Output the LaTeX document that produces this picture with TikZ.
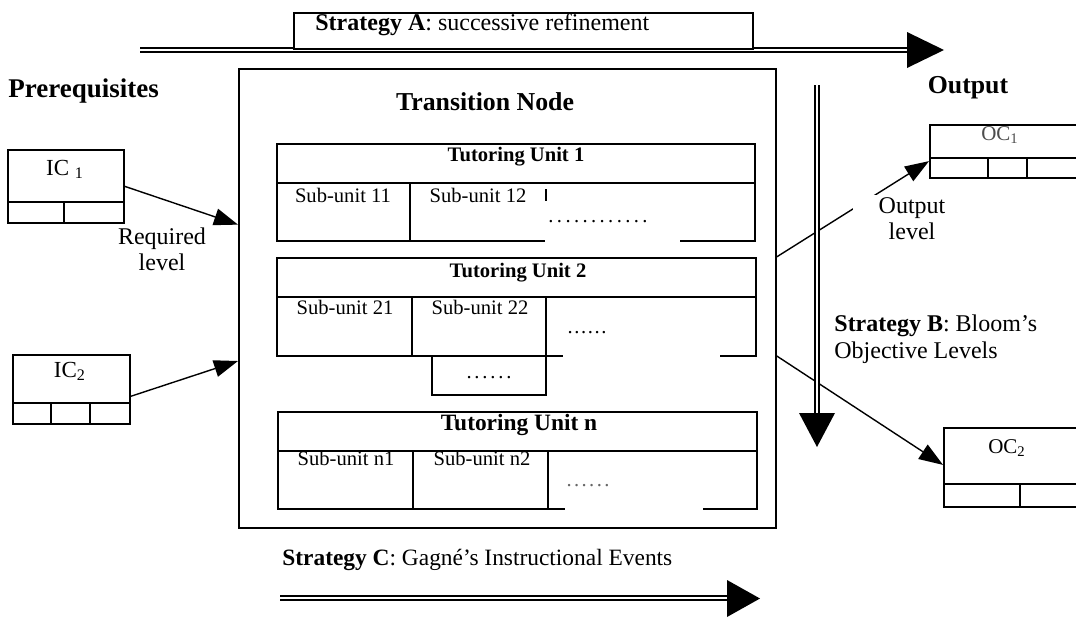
\documentclass[tikz,border=0pt]{standalone}
\usepackage{fontspec}
\setmainfont{Liberation Serif}
\usetikzlibrary{calc,arrows.meta}
\newcommand\pd[1]{.\kern#1}
\newcommand\subf{\fontsize{10.3}{12}\selectfont}
\begin{document}
\begin{tikzpicture}[x=0.5pt,y=-0.5pt,
  ln/.style={line width=0.7pt},
  box/.style={draw, line width=0.8pt, inner sep=0pt, anchor=north west},
  conn/.style={line width=0.7pt, -{Triangle[length=12pt,width=8.5pt]}},
  txt/.style={inner sep=0pt, anchor=base},
  shaft/.style={double, double distance=1.2pt, line width=0.8pt},
  tuhead/.style={txt, font=\fontsize{10.3}{12}\selectfont\bfseries},
  subtxt/.style={txt, font=\subf},
  lbl/.style={inner sep=0pt, align=center, font=\fontsize{12}{13}\selectfont}]
\useasboundingbox (0,0) rectangle (1076,621);
\clip (0,0) rectangle (1076,621);

% ---------- Strategy A ----------
\coordinate (aS) at (140,50);
\coordinate (aE) at (908,50);
\draw[shaft] (aS) -- (aE);
\fill (907,32) -- (944,50) -- (907,68) -- cycle;
\node[box, fill=white, minimum width=229.5pt, minimum height=18pt] (sa) at (293,12) {};
\node[txt, anchor=base west, font=\fontsize{12}{14}\selectfont] at (315,30) {\textbf{Strategy A}: successive refinement};

% ---------- Titles ----------
\node[txt, anchor=base west, font=\fontsize{13.5}{16}\selectfont\bfseries] (pre) at (8,97) {Prerequisites};
\node[txt, font=\fontsize{12.9}{15}\selectfont\bfseries] (out) at (968,93) {Output};

% ---------- Transition node ----------
\node[box, line width=0.85pt, minimum width=268.5pt, minimum height=229.5pt] (tn) at (238,68) {};
\node[txt, font=\fontsize{12.9}{15}\selectfont\bfseries] at (485,110) {Transition Node};

% Tutoring Unit 1
\draw[ln] (277,144) rectangle (755,183);
\draw[ln] (277,183) -- (277,241) -- (545,241);
\draw[ln] (680,241) -- (755,241) -- (755,183);
\draw[ln] (410,183) -- (410,241);
\draw[ln] (546,189) -- (546,201);
\node[tuhead] at (516,161) {Tutoring Unit 1};
\node[subtxt] at (343,202) {Sub-unit 11};
\node[subtxt] at (478,202) {Sub-unit 12};
\node[subtxt] at (598,222) {\pd{1.7pt}\pd{1.7pt}\pd{1.7pt}\pd{1.7pt}\pd{1.7pt}\pd{1.7pt}\pd{1.7pt}\pd{1.7pt}\pd{1.7pt}\pd{1.7pt}\pd{1.7pt}.};

% Tutoring Unit 2
\draw[ln] (277,258) rectangle (756,297);
\draw[ln] (277,297) -- (277,356) -- (563,356);
\draw[ln] (720,356) -- (756,356) -- (756,297);
\draw[ln] (412,297) -- (412,356);
\draw[ln] (546,297) -- (546,395) -- (432,395) -- (432,356);
\node[tuhead] at (518,277) {Tutoring Unit 2};
\node[subtxt] at (345,314) {Sub-unit 21};
\node[subtxt] at (480,314) {Sub-unit 22};
\node[subtxt] at (587,333) {\pd{0.8pt}\pd{0.8pt}\pd{0.8pt}\pd{0.8pt}\pd{0.8pt}.};
\node[subtxt] at (489,378) {\pd{1.4pt}\pd{1.4pt}\pd{1.4pt}\pd{1.4pt}\pd{1.4pt}.};

% Tutoring Unit n
\draw[ln] (278,412) rectangle (757,451);
\draw[ln] (278,451) -- (278,509) -- (565,509);
\draw[ln] (703,509) -- (757,509) -- (757,451);
\draw[ln] (413,451) -- (413,509);
\draw[ln] (548,451) -- (548,509);
\node[txt, font=\fontsize{11.7}{14}\selectfont\bfseries] at (519,430) {Tutoring Unit n};
\node[subtxt] at (346,465) {Sub-unit n1};
\node[subtxt] at (482,465) {Sub-unit n2};
\node[subtxt, text=black!60] at (588,486) {\pd{1.2pt}\pd{1.2pt}\pd{1.2pt}\pd{1.2pt}\pd{1.2pt}.};

% ---------- Input concepts ----------
\node[box, minimum width=58pt, minimum height=36.5pt] (ic1) at (7,149) {};
\draw[line width=1.1pt] (7,202) -- (123,202);
\draw[line width=1.1pt] (64,202) -- (64,222);
\node[txt, font=\fontsize{11.5}{13}\selectfont] at (65,175) {IC \textsubscript{1}};

\node[box, minimum width=58.5pt, minimum height=34.5pt] (ic2) at (12,354) {};
\draw[ln] (12,403) -- (129,403);
\draw[ln] (51,403) -- (51,423);
\draw[ln] (90,403) -- (90,423);
\node[txt, font=\fontsize{11.5}{13}\selectfont] at (70,377) {IC\textsubscript{2}};

% ---------- Output concepts ----------
\node[box, minimum width=80.5pt, minimum height=26.5pt] (oc1) at (929,124) {};
\draw[ln] (929,158) -- (1090,158);
\draw[ln] (988,158) -- (988,177);
\draw[ln] (1027,158) -- (1027,177);
\node[txt, font=\fontsize{10.5}{12}\selectfont, text=black!70] at (1000,140) {OC\textsubscript{1}};

\node[box, minimum width=73.5pt, minimum height=39.5pt] (oc2) at (943,427) {};
\draw[ln] (943,484) -- (1090,484);
\draw[ln] (1020,484) -- (1020,506);
\node[txt, font=\fontsize{10.5}{12}\selectfont] at (1007,453) {OC\textsubscript{2}};

% ---------- Connectors ----------
\draw[conn] (ic1.east) -- ($(tn.north west)!0.34!(tn.south west)$);
\draw[conn] ($(ic2.north east)!0.6!(ic2.south east)$) -- ($(tn.north west)!0.636!(tn.south west)$);
\draw[conn] ($(tn.north east)!0.41!(tn.south east)$) -- ($(oc1.north west)!0.68!(oc1.south west)$);
\draw[conn] ($(tn.north east)!0.625!(tn.south east)$) -- ($(oc2.north west)!0.47!(oc2.south west)$);

\node[lbl, anchor=north] (req) at (162,227) {Required\\level};
\node[lbl, anchor=north, fill=white, inner xsep=13pt, inner ysep=1pt] (outl) at (912,195) {Output\\level};

% ---------- Strategy B ----------
\coordinate (bS) at (817,85);
\coordinate (bE) at (817,414);
\draw[shaft] (bS) -- (bE);
\fill (799,413) -- (817,447) -- (835,413) -- cycle;
\node[inner sep=0pt, anchor=north west, align=left, font=\fontsize{12}{13.5}\selectfont] (sb) at (834,314) {\textbf{Strategy B}: Bloom’s\\Objective Levels};

% ---------- Strategy C ----------
\node[txt, anchor=base west, font=\fontsize{11.7}{14}\selectfont] (sc) at (282,565) {\textbf{Strategy C}: Gagné’s Instructional Events};
\coordinate (cS) at (280,598);
\coordinate (cE) at (728,598);
\draw[shaft] (cS) -- (cE);
\fill (727,580) -- (760,598.5) -- (727,617) -- cycle;
\end{tikzpicture}
\end{document}
